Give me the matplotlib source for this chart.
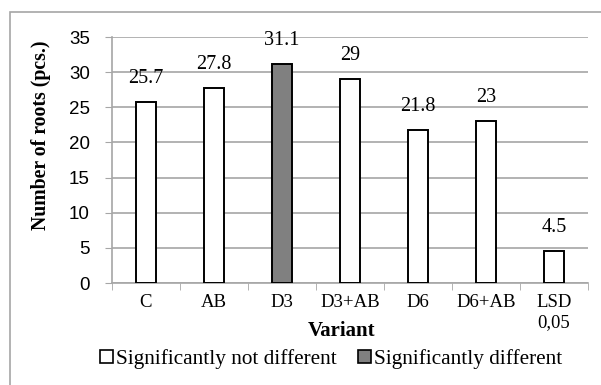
import numpy as np
import matplotlib.pyplot as plt
from matplotlib.patches import Patch, Rectangle

varianti = ["C", "AB", "D3", "D3+AB", "D6", "D6+AB", "LSD\n0,05"]
radici = [25.7, 27.8, 31.1, 29, 21.8, 23, 4.5]
etichette = ["25.7", "27.8", "31.1", "29", "21.8", "23", "4.5"]
significativo = [False, False, True, False, False, False, False]

serif = "Liberation Serif"
sans = "Liberation Sans"

fig = plt.figure(figsize=(6.01, 3.85), dpi=100)
ax = fig.add_axes([112 / 601, 1 - 283 / 385, 476 / 601, 246 / 385])

# cornice grigia del grafico
fig.patches.append(Rectangle((10 / 601, -0.1), 1.1, 1 - 12 / 385 + 0.1,
                             transform=fig.transFigure, fill=False,
                             edgecolor="#a6a6a6", linewidth=1.2))

x = np.arange(len(varianti))
colori = ["#808080" if s else "white" for s in significativo]
ax.bar(x, radici, width=0.29, color=colori, edgecolor="black", linewidth=1.4, zorder=3)

for xi, v, t in zip(x, radici, etichette):
    ax.text(xi, v + 2.0, t, ha="center", va="bottom", fontsize=14.5, family=serif)

ax.set_xlim(-0.5, len(varianti) - 0.5)
ax.set_ylim(0, 35)
ax.set_yticks(range(0, 36, 5))
ax.set_xticks(x)
ax.set_xticklabels(varianti, fontsize=13.5, family=serif, linespacing=1.2)
ax.set_xticks(np.arange(-0.5, len(varianti)), minor=True)
ax.tick_params(axis="x", which="major", length=0, pad=8)
ax.tick_params(axis="x", which="minor", length=5, color="#a6a6a6")
ax.tick_params(axis="y", length=5, color="#a6a6a6", labelsize=13.5, pad=11)
for lab in ax.get_yticklabels():
    lab.set_family(sans)

ax.grid(axis="y", color="#a6a6a6", linewidth=1.2, zorder=0)
for s in ["top", "right"]:
    ax.spines[s].set_visible(False)
ax.spines["left"].set_color("#a6a6a6")
ax.spines["bottom"].set_color("#a6a6a6")
ax.spines["left"].set_linewidth(1.2)
ax.spines["bottom"].set_linewidth(1.2)

fig.text(342 / 601, 1 - 331 / 385, "Variant", ha="center", va="center",
         fontsize=15, fontweight="bold", family=serif)
fig.text(41 / 601, 1 - 135 / 385, "Number of roots (pcs.)", ha="center", va="center",
         rotation=90, fontsize=14.2, fontweight="bold", family=serif)

handles = [Patch(facecolor="white", edgecolor="black", linewidth=1.2),
           Patch(facecolor="#808080", edgecolor="black", linewidth=1.2)]
fig.legend(handles, ["Significantly not different", "Significantly different"],
           loc="center", bbox_to_anchor=(331 / 601, 1 - 359 / 385), ncol=2,
           frameon=False, prop={"family": serif, "size": 15.3},
           handlelength=0.6, handleheight=0.6, handletextpad=0.15,
           columnspacing=1.0)

fig.savefig("out.png", dpi=100)
